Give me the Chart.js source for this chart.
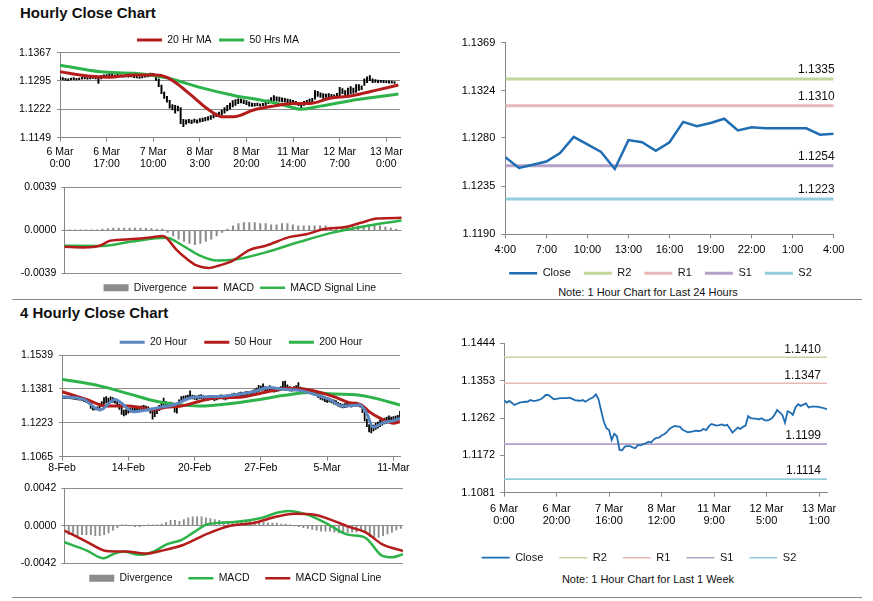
<!DOCTYPE html>
<html>
<head>
<meta charset="utf-8">
<title>Hourly Close Chart</title>
<script src="https://cdn.jsdelivr.net/npm/chart.js@4.4.1/dist/chart.umd.min.js"></script>
<style>
  html, body { margin: 0; padding: 0; background: #fff; width: 873px; height: 601px; overflow: hidden;
               font-family: "Liberation Sans", Arial, sans-serif; }
  .box { position: absolute; }
  .title { position: absolute; left: 20px; font-weight: bold; font-size: 15px; line-height: 18px; color: #111; }
  .note { position: absolute; width: 300px; text-align: center; font-size: 11px; line-height: 13px; color: #111; }
  .rule { position: absolute; left: 12px; width: 850px; height: 1px; background: #8a8a8a; }
</style>
</head>
<body>
<div class="title" style="top:4px">Hourly Close Chart</div>
<div class="title" style="top:304px">4 Hourly Close Chart</div>
<div class="rule" style="top:299px"></div>
<div class="rule" style="top:597px"></div>
<div class="note" style="left:498px;top:286px">Note: 1 Hour Chart for Last 24 Hours</div>
<div class="note" style="left:498px;top:573px">Note: 1 Hour Chart for Last 1 Week</div>

<div class="box" style="left:0;top:20px;width:420px;height:154px"><canvas id="hrPrice"></canvas></div>
<div class="box" style="left:0;top:176px;width:420px;height:120px"><canvas id="hrMacdChart"></canvas></div>
<div class="box" style="left:430px;top:30px;width:443px;height:271px"><canvas id="dayClose"></canvas></div>
<div class="box" style="left:0;top:320px;width:420px;height:157px"><canvas id="fourPrice"></canvas></div>
<div class="box" style="left:0;top:477px;width:420px;height:109px"><canvas id="fourMacdChart"></canvas></div>
<div class="box" style="left:430px;top:330px;width:443px;height:240px"><canvas id="weekClose"></canvas></div>

<script>
// ---------------------------------------------- DATOS -------------------------------------

// Hourly close chart (x = hours from 6 Mar 0:00)
const hrTicks = [0, 17, 34, 51, 68, 85, 102, 119];
const hrTickLabels = [['6 Mar', '0:00'], ['6 Mar', '17:00'], ['7 Mar', '10:00'], ['8 Mar', '3:00'],
                      ['8 Mar', '20:00'], ['11 Mar', '14:00'], ['12 Mar', '7:00'], ['13 Mar', '0:00']];
const hrPriceTicks = [1.1149, 1.1222, 1.1295, 1.1367];
const hrRange = [
  [1.1298, 1.1306], [1.1297, 1.1303], [1.1296, 1.1301], [1.1295, 1.1300], [1.1297, 1.1302],
  [1.1298, 1.1303], [1.1297, 1.1301], [1.1298, 1.1302], [1.1299, 1.1304], [1.1300, 1.1305],
  [1.1299, 1.1303], [1.1300, 1.1304], [1.1301, 1.1306], [1.1300, 1.1305], [1.1288, 1.1304],
  [1.1300, 1.1308], [1.1303, 1.1310], [1.1305, 1.1311], [1.1306, 1.1318], [1.1305, 1.1312],
  [1.1304, 1.1310], [1.1306, 1.1313], [1.1305, 1.1310], [1.1304, 1.1309], [1.1305, 1.1311],
  [1.1304, 1.1310], [1.1305, 1.1309], [1.1303, 1.1308], [1.1302, 1.1307], [1.1301, 1.1306],
  [1.1302, 1.1308], [1.1304, 1.1310], [1.1305, 1.1312], [1.1307, 1.1315], [1.1306, 1.1314],
  [1.1296, 1.1310], [1.1280, 1.1300], [1.1262, 1.1284], [1.1250, 1.1266], [1.1240, 1.1255],
  [1.1225, 1.1245], [1.1220, 1.1234], [1.1212, 1.1232], [1.1218, 1.1230], [1.1185, 1.1226],
  [1.1177, 1.1196], [1.1184, 1.1195], [1.1187, 1.1196], [1.1185, 1.1194], [1.1188, 1.1197],
  [1.1186, 1.1195], [1.1189, 1.1198], [1.1190, 1.1199], [1.1192, 1.1201], [1.1194, 1.1203],
  [1.1196, 1.1206], [1.1200, 1.1209], [1.1203, 1.1212], [1.1205, 1.1215], [1.1208, 1.1220],
  [1.1212, 1.1226], [1.1218, 1.1232], [1.1222, 1.1238], [1.1228, 1.1244], [1.1232, 1.1247],
  [1.1236, 1.1249], [1.1238, 1.1248], [1.1236, 1.1246], [1.1234, 1.1244], [1.1230, 1.1241],
  [1.1229, 1.1238], [1.1230, 1.1237], [1.1231, 1.1238], [1.1230, 1.1236], [1.1231, 1.1237],
  [1.1232, 1.1240], [1.1236, 1.1246], [1.1240, 1.1252], [1.1244, 1.1257], [1.1243, 1.1254],
  [1.1242, 1.1253], [1.1241, 1.1251], [1.1240, 1.1250], [1.1239, 1.1248], [1.1238, 1.1247],
  [1.1236, 1.1245], [1.1233, 1.1242], [1.1231, 1.1240], [1.1226, 1.1238], [1.1232, 1.1242],
  [1.1236, 1.1245], [1.1238, 1.1248], [1.1240, 1.1250], [1.1248, 1.1270], [1.1255, 1.1268],
  [1.1252, 1.1264], [1.1250, 1.1262], [1.1252, 1.1261], [1.1253, 1.1262], [1.1252, 1.1260],
  [1.1251, 1.1259], [1.1253, 1.1263], [1.1257, 1.1278], [1.1262, 1.1275], [1.1258, 1.1270],
  [1.1255, 1.1276], [1.1261, 1.1280], [1.1263, 1.1276], [1.1265, 1.1285], [1.1270, 1.1285],
  [1.1272, 1.1282], [1.1283, 1.1300], [1.1290, 1.1305], [1.1295, 1.1308], [1.1290, 1.1300],
  [1.1291, 1.1298], [1.1290, 1.1297], [1.1291, 1.1296], [1.1290, 1.1296], [1.1290, 1.1295],
  [1.1289, 1.1295], [1.1289, 1.1294], [1.1288, 1.1293]
];
const ma20Hr = [[0, 1.1318], [10, 1.1307], [18, 1.1304], [27, 1.1310], [35, 1.1310], [39, 1.1304],
                [42.6, 1.1288], [47.5, 1.1260], [53.6, 1.1224], [59, 1.1203], [63.3, 1.1203],
                [70.6, 1.1220], [77.8, 1.1230], [85, 1.1237], [91.2, 1.1237], [98.5, 1.1250],
                [106, 1.1256], [115.5, 1.1271], [123.4, 1.1284]];
const ma50Hr = [[0, 1.1335], [14.7, 1.1318], [27, 1.1314], [35, 1.1307], [41, 1.1299], [51, 1.1278],
                [63, 1.1258], [75, 1.1243], [81.5, 1.1233], [88, 1.1222], [95, 1.1230], [106, 1.1244],
                [114, 1.1252], [123.4, 1.1261]];

const hrMacdTicks = [-0.0039, 0, 0.0039];
const hrMacd = [[0, -0.00149], [7, -0.00155], [13, -0.00140], [16.8, -0.00095], [25, -0.00080],
                [31.5, -0.00066], [36.4, -0.00051], [38, -0.00080], [41, -0.00170], [45, -0.00259],
                [48.6, -0.00319], [53, -0.00342], [57, -0.00319], [62, -0.00274], [68, -0.00179],
                [74, -0.00140], [83, -0.00060], [89, -0.00036], [95, 0.00009], [104, 0.00033],
                [109, 0.00068], [115, 0.00107], [124, 0.00113]];
const hrSignal = [[0, -0.00140], [13, -0.00143], [25, -0.00101], [37.5, -0.00068], [43.6, -0.00140],
                  [49.8, -0.00229], [56, -0.00274], [62, -0.00268], [74, -0.00200], [86.6, -0.00104],
                  [98.6, -0.00021], [111, 0.00039], [124, 0.00089]];
// divergence, one bar every 2 hours
const hrDiv = [0.00003, 0.00003, 0.00003, 0.00003, 0.00003, 0.00003,
  0.00005, 0.0001, 0.00015, 0.0002, 0.0002, 0.0002, 0.0002, 0.0002, 0.0002, 0.00018, 0.00015, 0.00012, 0.0001,
  -0.0002, -0.0005, -0.0008, -0.0010, -0.0012, -0.0013, -0.0012, -0.0010, -0.0008, -0.0005, -0.0002,
  0.0001, 0.0004, 0.0006, 0.0007, 0.0007, 0.0007, 0.0006, 0.0006, 0.0005, 0.0005, 0.0006, 0.0006, 0.0005,
  0.0004, 0.0004, 0.0004, 0.0004, 0.0004, 0.0004, 0.0003, 0.0003, 0.0003, 0.0004, 0.0004, 0.0004, 0.0004,
  0.0005, 0.0005, 0.0004, 0.0003, 0.0002, 0.0001];

// Last 24 hours
const dayTicks = [0, 3, 6, 9, 12, 15, 18, 21, 24];
const dayTickLabels = ['4:00', '7:00', '10:00', '13:00', '16:00', '19:00', '22:00', '1:00', '4:00'];
const dayPriceTicks = [1.1190, 1.1235, 1.1280, 1.1324, 1.1369];
const dayClose = [1.1262, 1.1252, 1.1255, 1.1258, 1.1266, 1.1281, 1.1274, 1.1267, 1.1251, 1.1278,
                  1.1276, 1.1268, 1.1276, 1.1295, 1.1291, 1.1294, 1.1298, 1.1287, 1.1290, 1.1289,
                  1.1289, 1.1289, 1.1289, 1.1283, 1.1284];
const dayPivots = [1.1335, 1.1310, 1.1254, 1.1223];   // R2, R1, S1, S2

// 4 hourly close chart (x = 4 hour bars from 8 Feb)
const fourTicks = [0, 30, 60, 90, 120, 150];
const fourTickLabels = ['8-Feb', '14-Feb', '20-Feb', '27-Feb', '5-Mar', '11-Mar'];
const fourPriceTicks = [1.1065, 1.1223, 1.1381, 1.1539];
const fourRange = [
  [1.1338, 1.1350], [1.1336, 1.1348], [1.1337, 1.1347], [1.1335, 1.1346], [1.1334, 1.1345],
  [1.1333, 1.1344], [1.1331, 1.1342], [1.1330, 1.1341], [1.1328, 1.1340], [1.1326, 1.1338],
  [1.1322, 1.1336], [1.1318, 1.1332], [1.1314, 1.1328], [1.1290, 1.1320], [1.1282, 1.1296],
  [1.1283, 1.1295], [1.1285, 1.1298], [1.1290, 1.1312], [1.1300, 1.1322], [1.1310, 1.1340],
  [1.1316, 1.1345], [1.1312, 1.1338], [1.1320, 1.1344], [1.1318, 1.1340], [1.1314, 1.1336],
  [1.1300, 1.1328], [1.1285, 1.1310], [1.1262, 1.1295], [1.1255, 1.1282], [1.1260, 1.1285],
  [1.1268, 1.1290], [1.1272, 1.1292], [1.1275, 1.1296], [1.1278, 1.1298], [1.1276, 1.1296],
  [1.1279, 1.1300], [1.1283, 1.1302], [1.1285, 1.1305], [1.1282, 1.1301], [1.1278, 1.1298],
  [1.1268, 1.1292], [1.1240, 1.1285], [1.1252, 1.1280], [1.1265, 1.1290], [1.1280, 1.1305],
  [1.1295, 1.1320], [1.1305, 1.1338], [1.1300, 1.1322], [1.1298, 1.1318], [1.1300, 1.1320],
  [1.1296, 1.1316], [1.1272, 1.1300], [1.1268, 1.1295], [1.1300, 1.1330], [1.1318, 1.1345],
  [1.1325, 1.1348], [1.1330, 1.1350], [1.1334, 1.1352], [1.1336, 1.1372], [1.1334, 1.1352],
  [1.1332, 1.1350], [1.1330, 1.1348], [1.1334, 1.1352], [1.1336, 1.1354], [1.1332, 1.1350],
  [1.1328, 1.1346], [1.1330, 1.1348], [1.1333, 1.1350], [1.1331, 1.1348], [1.1326, 1.1345],
  [1.1330, 1.1347], [1.1334, 1.1350], [1.1336, 1.1353], [1.1333, 1.1350], [1.1330, 1.1348],
  [1.1334, 1.1352], [1.1338, 1.1356], [1.1340, 1.1358], [1.1342, 1.1362], [1.1340, 1.1358],
  [1.1345, 1.1364], [1.1348, 1.1366], [1.1346, 1.1363], [1.1350, 1.1368], [1.1352, 1.1370],
  [1.1349, 1.1367], [1.1353, 1.1372], [1.1358, 1.1378], [1.1362, 1.1385], [1.1368, 1.1398],
  [1.1372, 1.1394], [1.1375, 1.1405], [1.1370, 1.1392], [1.1368, 1.1388], [1.1372, 1.1396],
  [1.1370, 1.1390], [1.1366, 1.1384], [1.1368, 1.1386], [1.1370, 1.1388], [1.1374, 1.1392],
  [1.1378, 1.1415], [1.1380, 1.1418], [1.1376, 1.1400], [1.1372, 1.1392], [1.1370, 1.1388],
  [1.1374, 1.1392], [1.1376, 1.1396], [1.1378, 1.1410], [1.1372, 1.1390], [1.1368, 1.1386],
  [1.1370, 1.1385], [1.1366, 1.1382], [1.1364, 1.1380], [1.1362, 1.1378], [1.1358, 1.1374],
  [1.1350, 1.1368], [1.1340, 1.1360], [1.1332, 1.1352], [1.1328, 1.1348], [1.1322, 1.1344],
  [1.1318, 1.1340], [1.1320, 1.1338], [1.1316, 1.1334], [1.1310, 1.1330], [1.1306, 1.1326],
  [1.1300, 1.1318], [1.1296, 1.1314], [1.1292, 1.1310], [1.1294, 1.1312], [1.1296, 1.1315],
  [1.1298, 1.1316], [1.1296, 1.1313], [1.1300, 1.1318], [1.1302, 1.1320], [1.1300, 1.1316],
  [1.1296, 1.1312], [1.1270, 1.1300], [1.1232, 1.1275], [1.1205, 1.1240], [1.1180, 1.1215],
  [1.1176, 1.1205], [1.1185, 1.1212], [1.1192, 1.1220], [1.1198, 1.1226], [1.1205, 1.1238],
  [1.1212, 1.1240], [1.1218, 1.1245], [1.1220, 1.1250], [1.1225, 1.1255], [1.1222, 1.1250],
  [1.1228, 1.1252], [1.1230, 1.1254], [1.1232, 1.1258], [1.1236, 1.1276]
];
const ma20Four = [[0, 1.1345], [9.7, 1.1332], [17.2, 1.1283], [24, 1.1332], [32.3, 1.1275], [38.3, 1.1283],
                  [44.3, 1.1295], [50.4, 1.1306], [59.4, 1.1342], [68.5, 1.1345], [77.5, 1.1353],
                  [86.6, 1.1368], [94, 1.1388], [100, 1.1379], [107.7, 1.1373], [115, 1.1353],
                  [121, 1.1332], [127, 1.1301], [134.8, 1.1306], [137.9, 1.1267], [140.9, 1.1202],
                  [145.4, 1.1224], [150, 1.1233], [153, 1.1244]];
const ma50Four = [[0, 1.1368], [11, 1.1332], [20, 1.1301], [29, 1.1301], [35, 1.1295], [41, 1.1283],
                  [47, 1.1295], [54, 1.1301], [62, 1.1322], [70, 1.1340], [80.5, 1.1342], [89.6, 1.1360],
                  [97, 1.1376], [103, 1.1384], [112, 1.1376], [123, 1.1345], [130, 1.1317],
                  [135.6, 1.1306], [139, 1.1275], [145, 1.1239], [150, 1.1221], [153, 1.1228]];
const ma200Four = [[0, 1.1426], [17, 1.1395], [32, 1.1353], [43, 1.1322], [50, 1.1311], [62, 1.1301],
                   [77.5, 1.1314], [89.6, 1.1332], [100, 1.1350], [112, 1.1364], [123, 1.1357],
                   [134, 1.1353], [142, 1.1337], [153, 1.1306]];

const fourMacdTicks = [-0.0042, 0, 0.0042];
const fourMacd = [[0, -0.00184], [10, -0.00275], [17.7, -0.00364], [22, -0.00318], [27, -0.00289],
                  [34, -0.00325], [40, -0.00293], [46.5, -0.00205], [52.6, -0.00162], [58.6, -0.00071],
                  [64.7, 0.00018], [76.8, 0.00042], [89, 0.00088], [96.5, 0.00148], [101, 0.00166],
                  [110, 0.00124], [119, 0.00018], [128, -0.00099], [136, -0.00134], [143.5, -0.00335],
                  [148, -0.00353], [153, -0.00318]];
const fourSignal = [[0, -0.00053], [10, -0.00176], [19, -0.00282], [28, -0.00289], [37, -0.00311],
                    [43.5, -0.00282], [54, -0.00212], [64.7, -0.00088], [73.8, -0.00007], [86, 0.00035],
                    [96.5, 0.00106], [104, 0.00134], [113, 0.00124], [122, 0.00053], [128, -0.00007],
                    [136, -0.00071], [143.5, -0.00205], [153, -0.00282]];
// divergence, one bar every 2 periods
const fourDiv = [-0.0010, -0.0010, -0.0011, -0.0011, -0.0010, -0.0010, -0.0010, -0.0011, -0.0011, -0.0010,
  -0.0008, -0.0005, -0.0002,
  0.0001, 0.0001, 0.0000, -0.0001, -0.0001, 0.0000, 0.0001, 0.0001, 0.0001, 0.0002, 0.0004, 0.0006, 0.0006, 0.0005,
  0.0007, 0.0009, 0.0010, 0.0010, 0.0010, 0.0009, 0.0008, 0.0007, 0.0006, 0.0005, 0.0005, 0.0004, 0.0004, 0.0004,
  0.0004, 0.0005, 0.0005, 0.0005, 0.0004, 0.0003, 0.0003, 0.0003, 0.0002, 0.0002, 0.0001, 0.0000, -0.0001, -0.0002,
  -0.0003, -0.0004, -0.0005, -0.0006, -0.0006, -0.0006, -0.0007, -0.0008, -0.0008, -0.0008, -0.0007, -0.0007,
  -0.0006, -0.0008,
  -0.0012, -0.0014, -0.0013, -0.0011, -0.0009, -0.0007, -0.0005, -0.0003];

// Last 1 week, hourly
const wkTicks = [0, 20, 40, 60, 80, 100, 120];
const wkTickLabels = [['6 Mar', '0:00'], ['6 Mar', '20:00'], ['7 Mar', '16:00'], ['8 Mar', '12:00'],
                      ['11 Mar', '9:00'], ['12 Mar', '5:00'], ['13 Mar', '1:00']];
const wkPriceTicks = [1.1081, 1.1172, 1.1262, 1.1353, 1.1444];
const wkClose = [
  1.1306, 1.1300, 1.1304, 1.1299, 1.1294, 1.1297, 1.1300, 1.1301, 1.1302, 1.1302,
  1.1306, 1.1304, 1.1304, 1.1306, 1.1308, 1.1313, 1.1319, 1.1318, 1.1313, 1.1308,
  1.1309, 1.1310, 1.1311, 1.1311, 1.1311, 1.1312, 1.1309, 1.1306, 1.1305, 1.1304,
  1.1306, 1.1302, 1.1306, 1.1310, 1.1313, 1.1320, 1.1308, 1.1280, 1.1254, 1.1238,
  1.1233, 1.1209, 1.1224, 1.1218, 1.1185, 1.1184, 1.1193, 1.1194, 1.1194, 1.1191,
  1.1189, 1.1197, 1.1196, 1.1199, 1.1201, 1.1205, 1.1203, 1.1210, 1.1214, 1.1215,
  1.1220, 1.1223, 1.1228, 1.1236, 1.1240, 1.1243, 1.1242, 1.1241, 1.1234, 1.1231,
  1.1228, 1.1229, 1.1230, 1.1232, 1.1231, 1.1232, 1.1236, 1.1233, 1.1242, 1.1248,
  1.1246, 1.1244, 1.1245, 1.1247, 1.1244, 1.1246, 1.1237, 1.1227, 1.1233, 1.1239,
  1.1236, 1.1241, 1.1244, 1.1267, 1.1262, 1.1261, 1.1261, 1.1259, 1.1262, 1.1258,
  1.1256, 1.1258, 1.1262, 1.1270, 1.1282, 1.1276, 1.1270, 1.1251, 1.1279, 1.1276,
  1.1270, 1.1288, 1.1296, 1.1292, 1.1295, 1.1298, 1.1288, 1.1290, 1.1290, 1.1290,
  1.1289, 1.1288, 1.1286, 1.1284
];
const wkPivots = [1.1410, 1.1347, 1.1199, 1.1114];   // R2, R1, S1, S2

const pivotNames = ['R2', 'R1', 'S1', 'S2'];
const pivotColors = ['#c3d69b', '#e6b9b8', '#b3a2c7', '#93cddd'];

// ---------------------------------------------- ESTILO -------------------------------------
const FONT = '"Liberation Sans", Arial, sans-serif';
const AXIS = '#868686';
const GRID = '#8c8c8c';
const RED = '#b41c1c';
const GREEN = '#2db34a';
const BLUE = '#5b86bf';
const CLOSE = '#1f6db2';

// legend with a fixed height, moved by dx / dy (the clip box is made taller so text is not cut)
function legendFix(h, dx, dy) {
    return {
        id: 'legendFix',
        beforeInit(chart) {
            const fit = chart.legend.fit;
            chart.legend.fit = function () {
                fit.call(this);
                this.height = h;
            };
        },
        afterLayout(chart) {
            const l = chart.legend;
            l.left += dx; l.right += dx;
            l.top += dy; l.bottom += dy + 12;
        }
    };
}

// value labels above the pivot lines
function pivotLabels(dx, dy) {
    return {
        id: 'pivotLabels',
        afterDatasetsDraw(chart) {
            const ctx = chart.ctx;
            ctx.save();
            ctx.font = '12px ' + FONT;
            ctx.fillStyle = '#111';
            ctx.textAlign = 'right';
            ctx.textBaseline = 'middle';
            chart.data.datasets.forEach((ds, i) => {
                if (!ds.pivot) return;
                const pts = chart.getDatasetMeta(i).data;
                const p = pts[pts.length - 1];
                ctx.fillText(ds.pivot.toFixed(4), p.x + dx, p.y - dy);
            });
            ctx.restore();
        }
    };
}

// bar datasets would otherwise push an offset onto the x axis
function xAxis(max, ticks, labels, h, pad, size, lh) {
    return {
        type: 'linear', min: 0, max: max, offset: false,
        afterBuildTicks: s => { s.ticks = ticks.map(v => ({ value: v })); },
        afterFit: s => { s.height = h; },
        grid: { offset: false, drawOnChartArea: false, color: AXIS, tickLength: 4 },
        border: { color: AXIS },
        ticks: {
            autoSkip: false, maxRotation: 0, padding: pad, color: '#000',
            font: { family: FONT, size: size, lineHeight: lh },
            callback: (v, i) => labels[i]
        }
    };
}

function hiddenX(max) {
    return { type: 'linear', min: 0, max: max, offset: false, grid: { offset: false }, display: false };
}

function yAxis(ticks, w, size, onArea, tl, pad) {
    return {
        min: ticks[0], max: ticks[ticks.length - 1],
        afterBuildTicks: s => { s.ticks = ticks.map(v => ({ value: v })); },
        afterFit: s => { s.width = w; },
        grid: { drawOnChartArea: onArea, color: GRID, tickLength: tl },
        border: { color: AXIS },
        ticks: { padding: pad, color: '#000', font: { family: FONT, size: size }, callback: v => v.toFixed(4) }
    };
}

function baseOptions(pad, legendPos, size, boxW, labelPad, scales) {
    return {
        responsive: true, maintainAspectRatio: false, animation: false,
        layout: { padding: pad },
        plugins: {
            tooltip: { enabled: false },
            legend: {
                position: legendPos,
                labels: {
                    color: '#111', font: { family: FONT, size: size },
                    usePointStyle: true, pointStyleWidth: boxW, boxHeight: 7, padding: labelPad,
                    filter: item => item.text !== '',
                    sort: (a, b) => a.datasetIndex - b.datasetIndex
                }
            }
        },
        scales: scales
    };
}

function lineSet(label, data, color, width, order) {
    return {
        label: label, data: data, borderColor: color, backgroundColor: color, borderWidth: width,
        pointRadius: 0, pointStyle: 'line', cubicInterpolationMode: 'monotone', order: order
    };
}

function pivotSets(values, last, width) {
    return values.map((v, k) => ({
        label: pivotNames[k], data: [[0, v], [last, v]], pivot: v,
        borderColor: pivotColors[k], backgroundColor: pivotColors[k], borderWidth: width,
        pointRadius: 0, pointStyle: 'line', order: 2
    }));
}

// ---------------------------------------------- GRAFICAS -------------------------------------

new Chart(document.getElementById('hrPrice'), {
    type: 'line',
    data: {
        datasets: [
            lineSet('20 Hr MA', ma20Hr, RED, 3, 1),
            lineSet('50 Hrs MA', ma50Hr, GREEN, 3, 2),
            { type: 'bar', label: '', data: hrRange.map((r, i) => ({ x: i, y: r })),
              backgroundColor: '#000', borderWidth: 0, barThickness: 1.3, order: 3 }
        ]
    },
    options: baseOptions({ top: 0, right: 20, bottom: 0, left: 0 }, 'top', 10.5, 25, 7.5, {
        x: xAxis(124, hrTicks, hrTickLabels, 36.3, 4, 10.5, 1.2),
        y: yAxis(hrPriceTicks, 60, 10.5, true, 3, 6)
    }),
    plugins: [legendFix(32.7, 18, 7.25)]
});

new Chart(document.getElementById('hrMacdChart'), {
    type: 'line',
    data: {
        datasets: [
            { type: 'bar', label: 'Divergence', data: hrDiv.map((v, i) => ({ x: i * 2, y: v })),
              backgroundColor: '#8c8c8c', borderWidth: 0, barThickness: 1.4, pointStyle: 'rect', order: 3 },
            lineSet('MACD', hrMacd, RED, 2.5, 1),
            lineSet('MACD Signal Line', hrSignal, GREEN, 2.5, 2)
        ]
    },
    options: baseOptions({ top: 10, right: 18.3, bottom: 0, left: 0 }, 'bottom', 10.5, 25, 6, {
        x: hiddenX(124),
        y: yAxis(hrMacdTicks, 64.3, 10.5, true, 3, 5)
    }),
    plugins: [legendFix(22.7, 39, 3.15)]
});

new Chart(document.getElementById('dayClose'), {
    type: 'line',
    data: {
        datasets: [
            { label: 'Close', data: dayClose.map((v, i) => ({ x: i, y: v })), borderColor: CLOSE,
              backgroundColor: CLOSE, borderWidth: 2.5, pointRadius: 0, pointStyle: 'line', order: 1 }
        ].concat(pivotSets(dayPivots, 24, 3))
    },
    options: baseOptions({ top: 12.7, right: 39.3, bottom: 0, left: 0 }, 'bottom', 11, 28, 13, {
        x: xAxis(24, dayTicks, dayTickLabels, 26, 5, 11, 1.2),
        y: yAxis(dayPriceTicks, 75.3, 11, false, 4, 6)
    }),
    plugins: [legendFix(40.7, 28.65, -5.5), pivotLabels(1, 9)]
});

new Chart(document.getElementById('fourPrice'), {
    type: 'line',
    data: {
        datasets: [
            lineSet('20 Hour', ma20Four, BLUE, 3, 1),
            lineSet('50 Hour', ma50Four, RED, 3, 2),
            lineSet('200 Hour', ma200Four, GREEN, 3, 3),
            { type: 'bar', label: '', data: fourRange.map((r, i) => ({ x: i, y: r })),
              backgroundColor: '#000', borderWidth: 0, barThickness: 1.1, order: 4 }
        ]
    },
    options: baseOptions({ top: 0, right: 20, bottom: 0, left: 0 }, 'top', 10.5, 25, 17, {
        x: xAxis(153, fourTicks, fourTickLabels, 20.3, 1.3, 10.5, 1.2),
        y: yAxis(fourPriceTicks, 62, 10.5, true, 3, 6)
    }),
    plugins: [legendFix(35, 41, 0)]
});

new Chart(document.getElementById('fourMacdChart'), {
    type: 'line',
    data: {
        datasets: [
            { type: 'bar', label: 'Divergence', data: fourDiv.map((v, i) => ({ x: i * 2, y: v })),
              backgroundColor: '#8c8c8c', borderWidth: 0, barThickness: 1.2, pointStyle: 'rect', order: 3 },
            lineSet('MACD', fourMacd, GREEN, 2.5, 2),
            lineSet('MACD Signal Line', fourSignal, RED, 2.5, 1)
        ]
    },
    options: baseOptions({ top: 7, right: 17, bottom: 0, left: 0 }, 'bottom', 10.5, 25, 15.75, {
        x: hiddenX(153),
        y: yAxis(fourMacdTicks, 64.3, 10.5, true, 3, 5)
    }),
    plugins: [legendFix(22.7, 33.8, -6)]
});

new Chart(document.getElementById('weekClose'), {
    type: 'line',
    data: {
        datasets: [
            { label: 'Close', data: wkClose.map((v, i) => ({ x: i, y: v })), borderColor: CLOSE,
              backgroundColor: CLOSE, borderWidth: 1.8, pointRadius: 0, pointStyle: 'line', order: 1 }
        ].concat(pivotSets(wkPivots, 123, 1.6))
    },
    options: baseOptions({ top: 13.3, right: 46, bottom: 0, left: 0 }, 'bottom', 11, 28, 16, {
        x: xAxis(123, wkTicks, wkTickLabels, 40, 6.15, 11, 1.12),
        y: yAxis(wkPriceTicks, 74, 11, false, 4, 5)
    }),
    plugins: [legendFix(37.3, 10.5, 3.5), pivotLabels(-6, 8)]
});
</script>
</body>
</html>
